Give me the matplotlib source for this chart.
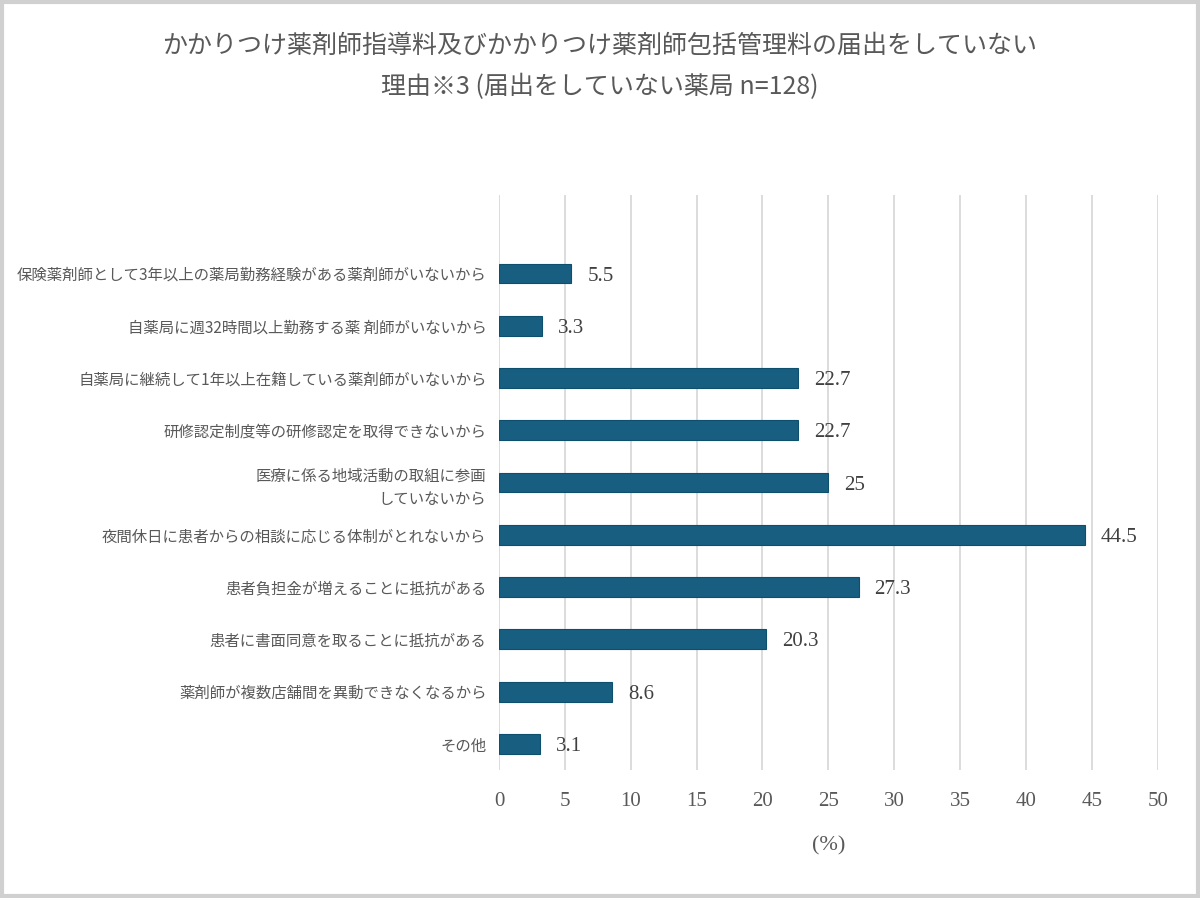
import numpy as np
import matplotlib
matplotlib.use('Agg')
import matplotlib.pyplot as plt
from matplotlib.patches import Rectangle

plt.rcParams['font.family'] = ['Noto Sans CJK JP', 'DejaVu Sans']

categories = [
    '保険薬剤師として3年以上の薬局勤務経験がある薬剤師がいないから',
    '自薬局に週32時間以上勤務する薬 剤師がいないから',
    '自薬局に継続して1年以上在籍している薬剤師がいないから',
    '研修認定制度等の研修認定を取得できないから',
    '医療に係る地域活動の取組に参画\nしていないから',
    '夜間休日に患者からの相談に応じる体制がとれないから',
    '患者負担金が増えることに抵抗がある',
    '患者に書面同意を取ることに抵抗がある',
    '薬剤師が複数店舗間を異動できなくなるから',
    'その他',
]
values = [5.5, 3.3, 22.7, 22.7, 25, 44.5, 27.3, 20.3, 8.6, 3.1]
value_labels = ['5.5', '3.3', '22.7', '22.7', '25', '44.5', '27.3', '20.3', '8.6', '3.1']
x_ticks = [0, 5, 10, 15, 20, 25, 30, 35, 40, 45, 50]

title = 'かかりつけ薬剤師指導料及びかかりつけ薬剤師包括管理料の届出をしていない\n理由※3 (届出をしていない薬局 n=128)'

text_color = '#595959'
bar_color = '#175e81'
grid_color = '#d9d9d9'
serif = ['Liberation Serif', 'DejaVu Serif']

fig = plt.figure(figsize=(12, 8.98), dpi=100)
ax = fig.add_axes([0.4158, 0.1425, 0.549, 0.6403])

y = np.arange(len(categories))
ax.barh(y, values, height=0.38, color=bar_color, edgecolor='#0f4f6e', linewidth=0.8, zorder=3)

for yi, v, lab in zip(y, values, value_labels):
    ax.text(v + 1.2, yi + 0.05, lab, va='center', ha='left', fontsize=15,
            color='#404040', family=serif)

ax.set_xlim(0, 50)
ax.set_ylim(9.5, -1.5)
ax.set_xticks(x_ticks)
ax.set_xticklabels([str(t) for t in x_ticks], family=serif, fontsize=15, color=text_color)
ax.set_yticks(y)
ax.set_yticklabels(categories, fontsize=11.1, color=text_color, linespacing=1.5)
ax.tick_params(axis='y', length=0, pad=9)
ax.tick_params(axis='x', length=0, pad=16)
ax.grid(axis='x', color=grid_color, linewidth=1.3, zorder=0)
for s in ax.spines.values():
    s.set_visible(False)

ax.set_xlabel('(%)', fontsize=16, color=text_color, labelpad=18, family=serif)

fig.text(0.5, 0.926, title, ha='center', va='center', fontsize=18,
         color=text_color, linespacing=1.75)

fig.patches.append(Rectangle((0.0015, 0.002), 0.997, 0.996, transform=fig.transFigure,
                             fill=False, edgecolor='#d0d0d0', linewidth=3))

fig.savefig('out.png', dpi=100)
